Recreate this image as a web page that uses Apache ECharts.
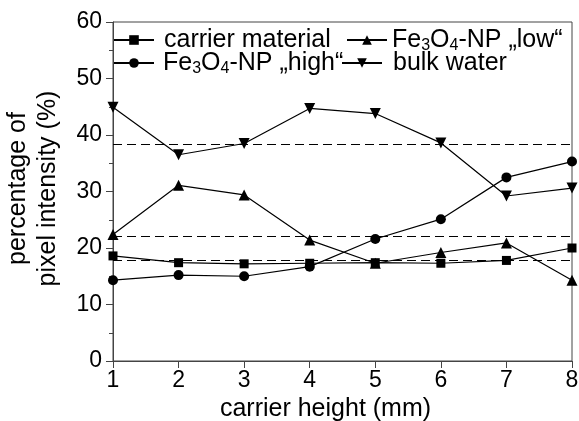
<!DOCTYPE html>
<html>
<head>
<meta charset="utf-8">
<script src="https://cdn.jsdelivr.net/npm/echarts@6/dist/echarts.min.js"></script>
<style>
html,body{margin:0;padding:0;background:#fff;}
#chart{width:579px;height:421px;}
</style>
</head>
<body>
<div id="chart"></div>
<script>
var heights = [1, 2, 3, 4, 5, 6, 7, 8];
var carrierMaterial = [18.6, 17.4, 17.2, 17.3, 17.4, 17.3, 17.8, 20.0];
var feHigh = [14.3, 15.2, 15.0, 16.7, 21.6, 25.1, 32.5, 35.3];
var feLow = [22.4, 31.1, 29.4, 21.4, 17.3, 19.2, 20.9, 14.3];
var bulkWater = [44.9, 36.5, 38.5, 44.7, 43.8, 38.6, 29.2, 30.6];
var referenceLevels = [38.4, 22.0, 17.9];
var yTicks = [0, 10, 20, 30, 40, 50, 60];

var names = {
  carrier: 'carrier material',
  low: 'Fe3O4-NP \u201Elow\u201C',
  high: 'Fe3O4-NP \u201Ehigh\u201C',
  bulk: 'bulk water'
};
var richLabels = {};
richLabels[names.carrier] = 'carrier material';
richLabels[names.low] = 'Fe{s|3}O{s|4}-NP \u201Elow\u201C';
richLabels[names.high] = 'Fe{s|3}O{s|4}-NP \u201Ehigh\u201C';
richLabels[names.bulk] = 'bulk water';

function pairs(arr) { return arr.map(function (v, i) { return [heights[i], v]; }); }

var FONT = 'Liberation Sans, Arial, sans-serif';
var AXIS = '#444';

function mkLegend(name, left, top, pad) {
  return {
    data: [name],
    left: left, top: top,
    orient: 'horizontal',
    itemWidth: 40, itemHeight: 12, itemGap: 0,
    padding: 0,
    inactiveColor: '#000',
    selectedMode: false,
    formatter: function (n) { return richLabels[n]; },
    textStyle: {
      color: '#000', fontFamily: FONT, fontSize: 25, lineHeight: 28,
      padding: [0, 0, 0, pad],
      rich: { s: { fontSize: 16, lineHeight: 16, verticalAlign: 'bottom', fontFamily: FONT, color: '#000' } }
    }
  };
}

function mkSeries(name, data, symbol, rotate, size) {
  return {
    name: name, type: 'line', data: pairs(data),
    symbol: symbol, symbolSize: size, symbolRotate: rotate,
    showAllSymbol: true,
    lineStyle: { color: '#000', width: 1.2 },
    itemStyle: { color: '#000' },
    emphasis: { disabled: true },
    z: 3
  };
}

var series = [
  mkSeries(names.carrier, carrierMaterial, 'rect', 0, 9),
  mkSeries(names.high, feHigh, 'circle', 0, 10),
  mkSeries(names.low, feLow, 'triangle', 0, 11),
  mkSeries(names.bulk, bulkWater, 'triangle', 180, 11)
];
series[0].markLine = {
  silent: true,
  symbol: 'none',
  label: { show: false },
  lineStyle: { color: '#000', type: [9, 5], width: 1.2 },
  data: referenceLevels.map(function (v) { return { yAxis: v }; })
};

var chart = echarts.init(document.getElementById('chart'));
chart.setOption({
  animation: false,
  backgroundColor: '#fff',
  grid: { left: 113, right: 7, top: 22, bottom: 60, show: true, borderColor: AXIS, borderWidth: 1,
    containLabel: false, outerBoundsMode: 'none' },
  legend: [
    mkLegend(names.carrier, 113, 26, 5),
    mkLegend(names.low, 346, 26, 0),
    mkLegend(names.high, 113, 49, 4),
    mkLegend(names.bulk, 341, 49, 6)
  ],
  xAxis: {
    type: 'value', min: 1, max: 8, interval: 1,
    name: 'carrier height (mm)', nameLocation: 'middle', nameGap: 34,
    nameTextStyle: { color: '#000', fontFamily: FONT, fontSize: 25, padding: [0, 34, 0, 0] },
    axisLine: { show: true, lineStyle: { color: AXIS, width: 1 } },
    axisTick: { show: true, inside: false, length: 7, lineStyle: { color: AXIS } },
    axisLabel: { color: '#000', fontFamily: FONT, fontSize: 23, margin: 8 },
    splitLine: { show: false }
  },
  yAxis: {
    type: 'value', min: 0, max: 60, interval: 10,
    name: 'percentage of\npixel intensity (%)', nameLocation: 'middle', nameGap: 50,
    nameTextStyle: { color: '#000', fontFamily: FONT, fontSize: 25, lineHeight: 30, padding: [0, 0, 0, 6] },
    axisLine: { show: true, lineStyle: { color: AXIS, width: 1 } },
    axisTick: { show: true, inside: false, length: 7, lineStyle: { color: AXIS } },
    minorTick: { show: true, splitNumber: 2, length: 4, lineStyle: { color: AXIS } },
    axisLabel: { color: '#000', fontFamily: FONT, fontSize: 23, margin: 11,
      formatter: function (v) { return yTicks.indexOf(v) >= 0 ? String(v) : ''; } },
    splitLine: { show: false }
  },
  series: series
});
</script>
</body>
</html>
